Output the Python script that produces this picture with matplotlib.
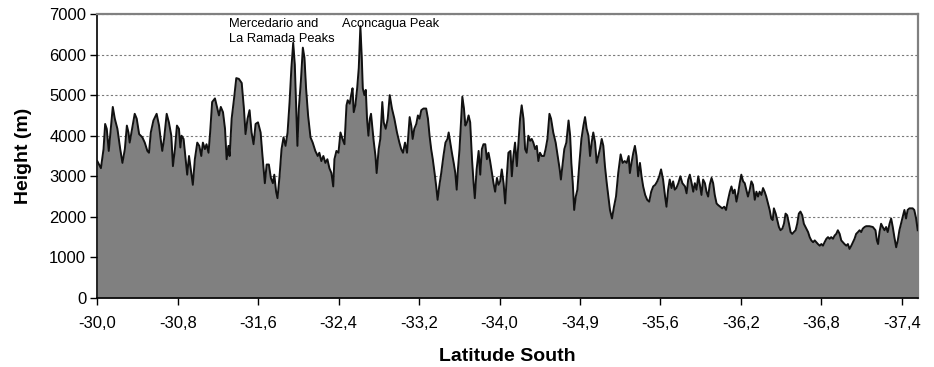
import matplotlib
matplotlib.use("Agg")
import matplotlib.pyplot as plt
import numpy as np

# Elevation profile along the Andes crest, sampled along the latitude axis
sample_pos = [
    0.0, 1.8, 3.1, 3.9, 4.7, 5.7, 6.4, 7.7, 8.7, 10.0, 11.4, 12.5, 13.7, 14.7, 15.5, 16.1,
    17.0, 18.6, 19.6, 20.8, 22.4, 23.6, 24.9, 25.7, 26.6, 27.9, 29.5, 30.7, 31.5, 32.3,
    33.2, 34.5, 35.6, 36.8, 37.6, 38.6, 39.6, 40.6, 41.3, 41.9, 42.9, 43.9, 44.7, 45.6,
    46.7, 47.5, 48.5, 49.7, 50.7, 51.7, 52.5, 53.5, 54.3, 55.3, 56.1, 57.1,
    58.5, 59.7, 60.5, 61.4, 62.5, 63.5, 64.3, 65.2, 65.8, 66.8, 68.0, 69.1, 70.4, 71.8,
    72.9, 73.7, 74.7, 75.7, 76.7, 77.7, 78.7, 79.9, 81.2, 82.0, 82.8, 83.3, 84.2, 85.3,
    86.3, 87.3, 88.0, 88.9, 89.6, 90.6, 91.6, 92.6, 93.6, 94.6, 95.6, 96.5, 97.4, 98.2,
    99.0, 99.5, 100.2, 101.2, 102.2, 103.0, 103.8, 104.8, 106.0, 107.1, 108.4, 109.6,
    110.4, 111.4, 112.4, 113.4, 114.4, 115.4, 116.4,
    117.3, 117.9, 118.9, 119.9, 120.9, 121.9, 122.9, 123.9, 124.5, 125.5, 126.2, 126.9,
    127.5, 128.3, 129.2, 130.0, 130.8, 131.5, 132.0, 132.8, 133.5, 134.1, 134.8, 135.5,
    136.1, 136.8, 137.4, 138.3, 138.9, 139.9, 140.7, 141.7, 142.4, 143.4, 144.4, 145.4,
    146.5, 147.7, 149.0, 150.2, 151.1, 152.0, 153.0, 154.0, 154.6, 155.3, 156.1, 156.8,
    157.6, 158.6, 159.4, 160.2, 161.1, 162.2, 163.5, 164.4, 165.2, 166.0, 166.8, 167.7,
    168.5, 169.2, 170.0, 171.0, 172.1, 173.1, 174.1,
    174.7, 175.5, 176.3, 177.2, 178.0, 178.7, 179.3, 180.1, 181.0, 181.5, 182.3, 183.0,
    183.8, 184.6, 185.4, 186.3, 187.1, 187.7, 188.6, 189.6, 190.4, 191.2, 192.0, 192.9,
    193.7, 194.5, 195.3, 196.2, 197.0, 197.8, 198.7, 199.5, 200.3, 201.1, 202.0, 202.8,
    203.6, 204.4, 205.4, 206.1, 206.9, 207.7, 208.6, 209.4, 210.2, 211.0, 211.9, 212.7,
    213.5, 214.3, 215.2, 216.0, 216.8, 217.7, 218.5, 219.3, 220.1, 221.0, 222.1, 222.9,
    223.8, 224.8, 225.6, 226.7, 227.9, 228.9, 229.9, 230.5, 231.4, 232.2, 233.2,
    234.3, 235.1, 235.7, 236.4, 237.1, 237.9, 238.7, 239.7, 240.7, 241.7, 242.5, 243.3,
    244.2, 245.0, 245.8, 246.6, 247.5, 248.3, 249.1, 249.9, 250.8, 251.6, 252.4, 253.3,
    254.1, 254.9, 255.9, 256.9, 257.9, 259.0, 260.2, 261.2, 262.2, 263.2, 264.2, 264.8,
    265.6, 266.5, 267.3, 268.1, 268.9, 269.8, 270.6, 271.4, 272.4, 273.4, 274.4, 275.4,
    276.4, 277.4, 278.4, 279.4, 280.3, 281.3, 282.3, 283.0, 283.8, 284.6, 285.5, 286.3,
    287.1, 287.9, 288.9, 289.9, 290.9,
    292.2, 293.0, 293.8, 294.6, 295.5, 296.3, 297.1, 297.9, 298.8, 299.6, 300.4, 301.2,
    302.1, 302.9, 303.7, 304.5, 305.4, 306.2, 307.0, 307.9, 308.7, 309.7, 310.7, 311.7,
    312.6, 313.6, 314.5, 315.3, 316.1, 316.9, 317.8, 318.6, 319.4, 320.2, 321.1, 321.9,
    322.7, 323.5, 324.4, 325.2, 326.0, 326.9, 327.7, 328.5, 329.3, 330.2, 331.0, 331.8,
    332.6, 333.5, 334.3, 335.1, 335.8, 336.4, 337.3, 338.1, 338.9, 339.7, 340.6, 341.4,
    342.2, 343.0, 343.9, 344.7, 345.5, 346.3, 347.2, 348.0, 348.8, 349.6, 350.5, 351.3,
    352.5, 353.4, 354.2, 355.0, 355.9, 356.7, 357.5, 358.3, 359.2, 360.0, 360.8, 361.6,
    362.5, 363.3, 364.1, 364.9, 365.8, 366.6, 367.4, 368.2, 369.1, 369.9, 370.7, 371.5,
    372.4, 373.2, 374.0, 374.9, 375.7, 376.5, 377.3, 378.2, 379.0, 379.8, 380.6, 381.5,
    382.3, 383.9, 385.6, 386.9, 387.6, 388.2, 388.9, 389.7, 390.5, 391.4, 392.2, 393.0,
    393.9, 394.7, 395.5, 396.3, 397.2, 398.0, 398.8, 399.6, 400.5, 401.3, 402.1, 402.9,
    403.8, 405.4, 406.2, 407.1, 407.9,
]

height_m = [
    3375, 3200, 3670, 4290, 4170, 3625, 4000, 4710, 4420, 4170, 3670, 3330, 3670, 4250, 4080, 3830,
    4080, 4540, 4420, 4040, 3960, 3830, 3625, 3580, 4080, 4375, 4540, 4250, 3920, 3625,
    3920, 4540, 4330, 4000, 3250, 3670, 4250, 4170, 3710, 4000, 3920, 3420, 3040, 3500,
    3080, 2790, 3420, 3830, 3750, 3500, 3830, 3670, 3790, 3580, 4080, 4830,
    4920, 4670, 4500, 4710, 4580, 4170, 3420, 3750, 3500, 4420, 4920, 5420, 5400, 5300,
    4670, 4040, 4420, 4630, 4080, 3790, 4290, 4330, 4080, 3580, 3130, 2830, 3290, 3290,
    2960, 2830, 3040, 2620, 2460, 3000, 3670, 3960, 3750, 4080, 4830, 5670, 6290, 5750,
    4500, 3750, 4670, 5330, 6170, 5920, 5170, 4500, 3960, 3830, 3625, 3500,
    3580, 3375, 3500, 3330, 3420, 3200, 3080,
    2750, 3420, 3625, 3580, 4080, 3920, 3790, 4750, 4875, 4790, 5000, 5170,
    4580, 4750, 5170, 5670, 6700, 5920, 5170, 5000, 5130, 4420, 4000, 4420,
    4540, 4170, 3875, 3500, 3080, 3670, 3920, 4830, 4330, 4170, 4420, 5000,
    4670, 4420, 4080, 3830, 3670, 3580, 3830, 3580, 4000, 4460, 4250, 3920,
    4170, 4290, 4500, 4420, 4630, 4670, 4670, 4420, 4000, 3670, 3420, 3080,
    2750, 2420, 2750, 3080, 3500, 3830, 3920,
    4080, 3830, 3580, 3330, 3080, 2670, 3170, 3670, 4500, 4960, 4670, 4250,
    4330, 4500, 4330, 3420, 2830, 2460, 3170, 3625, 3040, 3670, 3790, 3790,
    3420, 3580, 3375, 3080, 2830, 2620, 2960, 2790, 2875, 3170, 2830, 2330,
    3000, 3580, 3625, 3000, 3500, 3830, 3250, 3830, 4420, 4750, 4420, 3670,
    3580, 4000, 3875, 3920, 3830, 3670, 3750, 3375, 3580, 3500, 3500, 3670,
    3920, 4540, 4420, 4080, 3830, 3500, 3170, 2920, 3330, 3670, 3830,
    4375, 4000, 3330, 2830, 2170, 2500, 2670, 3330, 3920, 4250, 4460, 4170,
    4000, 3500, 3830, 4080, 3830, 3330, 3500, 3670, 3920, 3750, 3250, 2830,
    2500, 2170, 1960, 2250, 2500, 3080, 3540, 3330, 3375, 3330, 3500, 3080,
    3330, 3580, 3750, 3500, 3000, 3330, 3000, 2750, 2540, 2420, 2375, 2620,
    2750, 2790, 2875, 3000, 3170, 2920, 2500, 2250, 2670, 2920, 2710, 2875,
    2670, 2710, 2830, 3000, 2830,
    2750, 2580, 2920, 3040, 2830, 2620, 2830, 2670, 3000, 2790, 2540, 2920,
    2830, 2620, 2500, 2790, 2960, 2830, 2540, 2330, 2290, 2250, 2210, 2250,
    2170, 2420, 2620, 2750, 2580, 2670, 2375, 2580, 2830, 3040, 2875, 2830,
    2670, 2500, 2670, 2875, 2790, 2420, 2620, 2500, 2620, 2540, 2710, 2620,
    2500, 2330, 2170, 1960, 1920, 2210, 2080, 1920, 1750, 1670, 1710, 1830,
    2080, 2040, 1830, 1625, 1580, 1625, 1670, 1830, 2080, 2130, 2040, 1830,
    1710, 1625, 1500, 1420, 1375, 1420, 1375, 1330, 1290, 1330, 1290, 1375,
    1460, 1500, 1460, 1500, 1460, 1540, 1580, 1670, 1580, 1420, 1375, 1330,
    1290, 1330, 1210, 1290, 1375, 1460, 1580, 1625, 1670, 1625, 1710, 1750,
    1770, 1770, 1750, 1670, 1420, 1330, 1625, 1830, 1750, 1670, 1750, 1625,
    1830, 1960, 1750, 1500, 1250, 1420, 1670, 1830, 2000, 2170, 1960, 2170,
    2210, 2210, 2170, 1960, 1670,
]

# Latitude labels shown every 40 samples along the profile
lat_labels = ["-30,0", "-30,8", "-31,6", "-32,4", "-33,2", "-34,0",
              "-34,9", "-35,6", "-36,2", "-36,8", "-37,4"]
samples_per_label = 40

# Named summits: (label, sample position of the text's left edge, height of its top)
peak_notes = [
    ("Mercedario and\nLa Ramada Peaks", 65.5, 6900),
    ("Aconcagua Peak", 121.6, 6900),
]

plt.rcParams["font.family"] = ["Liberation Sans", "DejaVu Sans"]

W, H = 934, 367
fig = plt.figure(figsize=(W / 100, H / 100), dpi=100)
left, right, top, bottom = 97.3, 917.7, 14, 298
ax = fig.add_axes([left / W, 1 - bottom / H, (right - left) / W, (bottom - top) / H])

x = np.asarray(sample_pos)
y = np.asarray(height_m)

ax.fill_between(x, 0, y, color="#808080", linewidth=0, zorder=2)
ax.plot(x, y, color="#111111", linewidth=1.4, zorder=3)

ax.set_xlim(0, x[-1])
ax.set_ylim(0, 7000)
ax.set_yticks(np.arange(0, 7001, 1000))
ax.set_xticks(np.arange(len(lat_labels)) * samples_per_label)
ax.set_xticklabels(lat_labels)

ax.yaxis.grid(True, linestyle=(0, (2.0, 2.0)), color="#7a7a7a", linewidth=0.8, zorder=1)
ax.set_axisbelow(True)

for side in ("top", "right"):
    ax.spines[side].set_color("#808080")
    ax.spines[side].set_linewidth(1.6)
for side in ("left", "bottom"):
    ax.spines[side].set_color("black")
    ax.spines[side].set_linewidth(1.2)

ax.tick_params(axis="both", direction="out", length=5, width=1.0, color="black",
               labelsize=12, pad=3)
ax.tick_params(axis="x", pad=8)

ax.set_xlabel("Latitude South", fontsize=14, fontweight="bold", labelpad=12)
ax.set_ylabel("Height (m)", fontsize=14, fontweight="bold", labelpad=12)

for text, pos, h in peak_notes:
    ax.text(pos, h, text, fontsize=9.3, ha="left", va="top", linespacing=1.3,
            zorder=4, clip_on=False)

fig.savefig("out.png", dpi=100, facecolor="white")
